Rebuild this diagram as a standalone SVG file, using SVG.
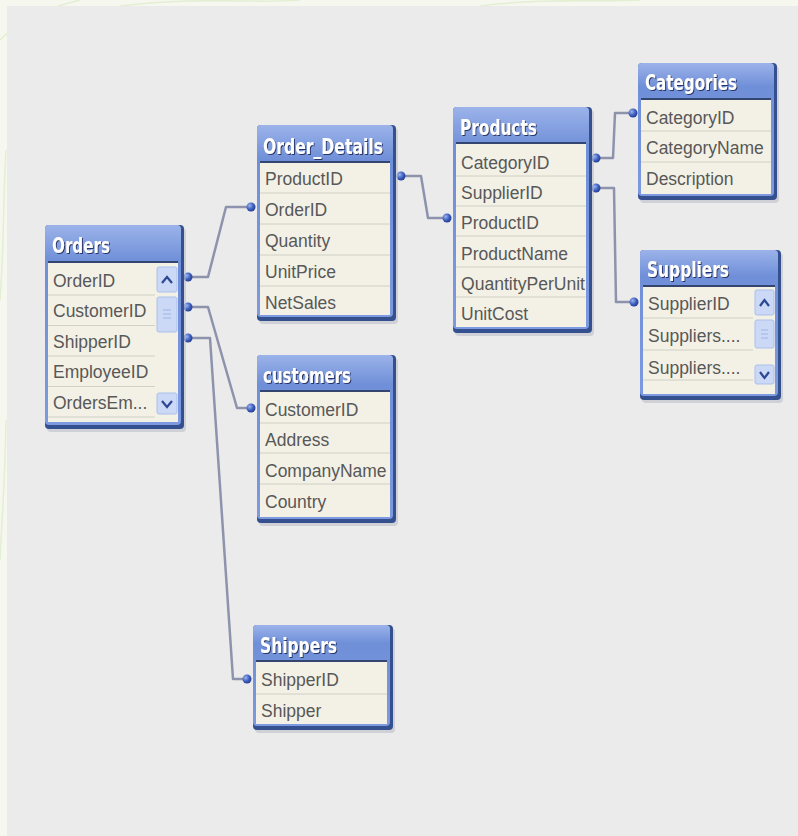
<svg xmlns="http://www.w3.org/2000/svg" width="798" height="836" viewBox="0 0 798 836">
<defs>
<linearGradient id="frameg" x1="0" y1="0" x2="0" y2="1">
<stop offset="0" stop-color="#9cb3ea"/>
<stop offset="0.18" stop-color="#6f8fd8"/>
<stop offset="1" stop-color="#7d9ae0"/>
</linearGradient>
<radialGradient id="dotg" cx="0.35" cy="0.35" r="0.7">
<stop offset="0" stop-color="#9db4f0"/>
<stop offset="0.6" stop-color="#3b5cbc"/>
<stop offset="1" stop-color="#243f94"/>
</radialGradient>
<filter id="shd" x="-10%" y="-10%" width="130%" height="130%">
<feDropShadow dx="1" dy="1" stdDeviation="0.6" flood-color="#1e2c5a" flood-opacity="0.9"/>
</filter>
<style>
.sh{fill:#b9bcc6;opacity:.55}
.fo{fill:#35508f}
.fi{fill:url(#frameg)}
.body{fill:#f3f1e6}
.hl{stroke:#34466f;stroke-width:2}
.dv{stroke:#d0d0c6;stroke-width:1}
.ht{font-family:"DejaVu Sans Condensed","DejaVu Sans",sans-serif;font-weight:bold;font-size:21px;fill:#ffffff;filter:url(#shd)}
.rt{font-family:"Liberation Sans",Arial,sans-serif;font-size:17.5px;fill:#585858}
.conn{fill:none;stroke:#8e93ad;stroke-width:2.5;stroke-linejoin:round}
.dot{fill:url(#dotg)}
.btn{fill:#cbd9f6;stroke:#a9bfec;stroke-width:1}
.chev{fill:none;stroke:#2c4794;stroke-width:2.2}
.grip{stroke:#9fb5e6;stroke-width:1}
</style>
</defs>
<rect x="0" y="0" width="798" height="836" fill="#f6f8f0"/>
<path d="M0 40 C 20 20, 40 10, 80 0 M120 6 C 200 -4, 260 4, 300 0 M480 6 C 540 -2, 600 2, 640 0 M0 300 C 4 250, 3 200, 6 150 M0 560 C 3 500, 5 480, 6 420" fill="none" stroke="#e3eed2" stroke-width="1.5"/>
<rect x="7" y="6" width="791" height="830" fill="#ebebeb"/>

<g id="connectors">
<path class="conn" d="M188,277 H208 L226,207 H251"/>
<path class="conn" d="M188,307 H208 L237,408 H251"/>
<path class="conn" d="M188,338 H210 L233,679 H247"/>
<path class="conn" d="M401,176 H421 L428,218 H447"/>
<path class="conn" d="M596,158 H613 L615,113 H633"/>
<path class="conn" d="M596,188 H614 L616,302 H634"/>
<circle class="dot" cx="188" cy="277" r="4.5"/>
<circle class="dot" cx="188" cy="307" r="4.5"/>
<circle class="dot" cx="188" cy="338" r="4.5"/>
<circle class="dot" cx="251" cy="207" r="4.5"/>
<circle class="dot" cx="251" cy="408" r="4.5"/>
<circle class="dot" cx="247" cy="679" r="4.5"/>
<circle class="dot" cx="401" cy="176" r="4.5"/>
<circle class="dot" cx="447" cy="218" r="4.5"/>
<circle class="dot" cx="596" cy="158" r="4.5"/>
<circle class="dot" cx="596" cy="188" r="4.5"/>
<circle class="dot" cx="633" cy="113" r="4.5"/>
<circle class="dot" cx="634" cy="302" r="4.5"/>
</g>

<g id="orders" transform="translate(45,225)">
<rect class="sh" x="2" y="3" width="139" height="204" rx="4"/>
<rect class="fo" x="0" y="0" width="139" height="204" rx="4"/>
<rect class="fi" x="0" y="0" width="136" height="200" rx="4"/>
<rect class="body" x="3" y="37" width="130" height="160"/>
<line class="hl" x1="3" y1="37" x2="133" y2="37"/>
<line class="dv" x1="3" y1="70" x2="110" y2="70"/>
<line class="dv" x1="3" y1="100.5" x2="110" y2="100.5"/>
<line class="dv" x1="3" y1="131" x2="110" y2="131"/>
<line class="dv" x1="3" y1="161.5" x2="110" y2="161.5"/>
<line class="dv" x1="3" y1="192" x2="110" y2="192"/>
<text class="ht" x="7" y="28" textLength="58" lengthAdjust="spacingAndGlyphs">Orders</text>
<text class="rt" x="8" y="61.5">OrderID</text>
<text class="rt" x="8" y="92">CustomerID</text>
<text class="rt" x="8" y="122.5">ShipperID</text>
<text class="rt" x="8" y="153">EmployeeID</text>
<text class="rt" x="8" y="183.5">OrdersEm...</text>
<rect class="btn" x="112" y="42" width="20" height="25" rx="2"/>
<path class="chev" d="M117,58 L122,52 L127,58"/>
<rect class="btn" x="112" y="72" width="20" height="35" rx="2"/>
<line class="grip" x1="118" y1="85" x2="126" y2="85"/>
<line class="grip" x1="118" y1="89" x2="126" y2="89"/>
<line class="grip" x1="118" y1="93" x2="126" y2="93"/>
<rect class="btn" x="112" y="168" width="20" height="21" rx="2"/>
<path class="chev" d="M117,176 L122,182 L127,176"/>
</g>

<g id="order_details" transform="translate(257,125)">
<rect class="sh" x="2" y="3" width="139" height="196" rx="4"/>
<rect class="fo" x="0" y="0" width="139" height="196" rx="4"/>
<rect class="fi" x="0" y="0" width="136" height="192" rx="4"/>
<rect class="body" x="3" y="37" width="130" height="153"/>
<line class="hl" x1="3" y1="37" x2="133" y2="37"/>
<line class="dv" x1="3" y1="68" x2="133" y2="68"/>
<line class="dv" x1="3" y1="99" x2="133" y2="99"/>
<line class="dv" x1="3" y1="130" x2="133" y2="130"/>
<line class="dv" x1="3" y1="161" x2="133" y2="161"/>
<text class="ht" x="6" y="29" textLength="120" lengthAdjust="spacingAndGlyphs">Order_Details</text>
<text class="rt" x="8" y="59.5">ProductID</text>
<text class="rt" x="8" y="90.5">OrderID</text>
<text class="rt" x="8" y="121.5">Quantity</text>
<text class="rt" x="8" y="152.5">UnitPrice</text>
<text class="rt" x="8" y="183.5">NetSales</text>
</g>

<g id="products" transform="translate(453,107)">
<rect class="sh" x="2" y="3" width="139" height="226" rx="4"/>
<rect class="fo" x="0" y="0" width="139" height="226" rx="4"/>
<rect class="fi" x="0" y="0" width="136" height="222" rx="4"/>
<rect class="body" x="3" y="36" width="130" height="184"/>
<line class="hl" x1="3" y1="36" x2="133" y2="36"/>
<line class="dv" x1="3" y1="69" x2="133" y2="69"/>
<line class="dv" x1="3" y1="99" x2="133" y2="99"/>
<line class="dv" x1="3" y1="129" x2="133" y2="129"/>
<line class="dv" x1="3" y1="160" x2="133" y2="160"/>
<line class="dv" x1="3" y1="190" x2="133" y2="190"/>
<text class="ht" x="7" y="28" textLength="77" lengthAdjust="spacingAndGlyphs">Products</text>
<text class="rt" x="8" y="61.5">CategoryID</text>
<text class="rt" x="8" y="91.5">SupplierID</text>
<text class="rt" x="8" y="121.5">ProductID</text>
<text class="rt" x="8" y="152.5">ProductName</text>
<text class="rt" x="8" y="182.5" textLength="124" lengthAdjust="spacingAndGlyphs">QuantityPerUnit</text>
<text class="rt" x="8" y="212.5">UnitCost</text>
</g>

<g id="categories" transform="translate(638,63)">
<rect class="sh" x="2" y="3" width="139" height="137" rx="4"/>
<rect class="fo" x="0" y="0" width="139" height="137" rx="4"/>
<rect class="fi" x="0" y="0" width="136" height="133" rx="4"/>
<rect class="body" x="3" y="36" width="130" height="95"/>
<line class="hl" x1="3" y1="36" x2="133" y2="36"/>
<line class="dv" x1="3" y1="68" x2="133" y2="68"/>
<line class="dv" x1="3" y1="99" x2="133" y2="99"/>
<text class="ht" x="7" y="27" textLength="92" lengthAdjust="spacingAndGlyphs">Categories</text>
<text class="rt" x="8" y="60.5">CategoryID</text>
<text class="rt" x="8" y="90.5">CategoryName</text>
<text class="rt" x="8" y="121.5">Description</text>
</g>

<g id="suppliers" transform="translate(640,250)">
<rect class="sh" x="2" y="3" width="141" height="150" rx="4"/>
<rect class="fo" x="0" y="0" width="141" height="150" rx="4"/>
<rect class="fi" x="0" y="0" width="138" height="146" rx="4"/>
<rect class="body" x="3" y="36" width="132" height="108"/>
<line class="hl" x1="3" y1="36" x2="135" y2="36"/>
<line class="dv" x1="3" y1="68" x2="113" y2="68"/>
<line class="dv" x1="3" y1="100" x2="113" y2="100"/>
<line class="dv" x1="3" y1="130" x2="113" y2="130"/>
<text class="ht" x="7" y="27" textLength="82" lengthAdjust="spacingAndGlyphs">Suppliers</text>
<text class="rt" x="8" y="59.5">SupplierID</text>
<text class="rt" x="8" y="91.5">Suppliers....</text>
<text class="rt" x="8" y="123.5">Suppliers....</text>
<rect class="btn" x="115" y="40" width="19" height="25" rx="2"/>
<path class="chev" d="M120,56 L124.5,50 L129,56"/>
<rect class="btn" x="115" y="70" width="19" height="28" rx="2"/>
<line class="grip" x1="121" y1="80" x2="128" y2="80"/>
<line class="grip" x1="121" y1="84" x2="128" y2="84"/>
<line class="grip" x1="121" y1="88" x2="128" y2="88"/>
<rect class="btn" x="115" y="115" width="19" height="19" rx="2"/>
<path class="chev" d="M120,122 L124.5,128 L129,122"/>
</g>

<g id="customers" transform="translate(257,355)">
<rect class="sh" x="2" y="3" width="139" height="168" rx="4"/>
<rect class="fo" x="0" y="0" width="139" height="168" rx="4"/>
<rect class="fi" x="0" y="0" width="136" height="164" rx="4"/>
<rect class="body" x="3" y="36" width="130" height="126"/>
<line class="hl" x1="3" y1="36" x2="133" y2="36"/>
<line class="dv" x1="3" y1="68" x2="133" y2="68"/>
<line class="dv" x1="3" y1="98" x2="133" y2="98"/>
<line class="dv" x1="3" y1="129" x2="133" y2="129"/>
<text class="ht" x="6" y="28" textLength="88" lengthAdjust="spacingAndGlyphs">customers</text>
<text class="rt" x="8" y="60.5">CustomerID</text>
<text class="rt" x="8" y="90.5">Address</text>
<text class="rt" x="8" y="121.5">CompanyName</text>
<text class="rt" x="8" y="152.5">Country</text>
</g>

<g id="shippers" transform="translate(253,625)">
<rect class="sh" x="2" y="3" width="140" height="105" rx="4"/>
<rect class="fo" x="0" y="0" width="140" height="105" rx="4"/>
<rect class="fi" x="0" y="0" width="137" height="101" rx="4"/>
<rect class="body" x="3" y="36" width="131" height="63"/>
<line class="hl" x1="3" y1="36" x2="134" y2="36"/>
<line class="dv" x1="3" y1="69" x2="134" y2="69"/>
<text class="ht" x="7" y="28" textLength="77" lengthAdjust="spacingAndGlyphs">Shippers</text>
<text class="rt" x="8" y="60.5">ShipperID</text>
<text class="rt" x="8" y="91.5">Shipper</text>
</g>
</svg>
